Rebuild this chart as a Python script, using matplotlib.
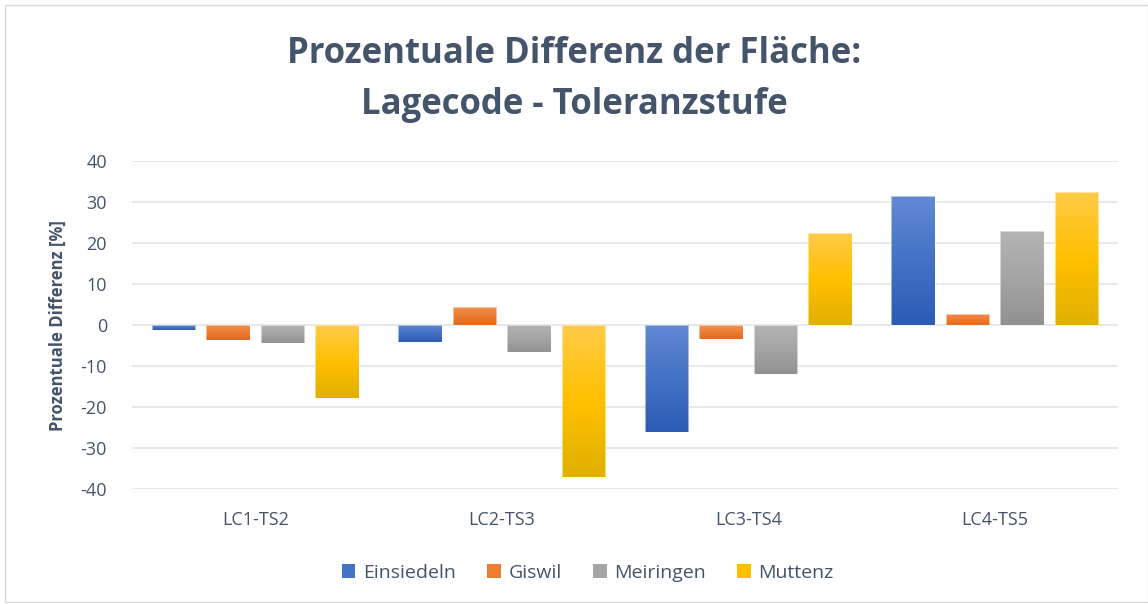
import numpy as np
import matplotlib
matplotlib.use("Agg")
import matplotlib.pyplot as plt
from matplotlib.colors import LinearSegmentedColormap
from matplotlib.patches import Rectangle

categories = ["LC1-TS2", "LC2-TS3", "LC3-TS4", "LC4-TS5"]
series_names = ["Einsiedeln", "Giswil", "Meiringen", "Muttenz"]
einsiedeln = [-1.2, -4.2, -26.1, 31.6]
giswil = [-3.7, 4.4, -3.3, 2.8]
meiringen = [-4.3, -6.6, -12.0, 23.1]
muttenz = [-17.8, -37.0, 22.4, 32.6]
y_ticks = [-40, -30, -20, -10, 0, 10, 20, 30, 40]

# light / base / dark shades for the vertical gradient fill of each series
shades = [
    ("#6389D4", "#4472C4", "#2C5BB5"),
    ("#F39052", "#ED7D31", "#E06A1C"),
    ("#B4B4B4", "#A5A5A5", "#919191"),
    ("#FFCB47", "#FFC000", "#E0B000"),
]

text_color = "#44546A"
grid_color = "#E1E4E9"

plt.rcParams["font.family"] = ["Open Sans", "DejaVu Sans"]

fig = plt.figure(figsize=(11.48, 6.04), dpi=100)
ax = fig.add_axes([0.115, 0.190, 0.859, 0.543])

values = [einsiedeln, giswil, meiringen, muttenz]
x = np.arange(len(categories))
pitch = 0.221
width = 0.176

for i, (vals, (light, base, dark)) in enumerate(zip(values, shades)):
    offs = x + (i - 1.5) * pitch
    bars = ax.bar(offs, vals, width, color=base, edgecolor="none",
                  label=series_names[i], zorder=2)
    cmap = LinearSegmentedColormap.from_list("g%d" % i, [dark, base, light])
    grad = np.linspace(0, 1, 256).reshape(-1, 1)
    for b in bars:
        x0, y0 = b.get_x(), b.get_y()
        w, h = b.get_width(), b.get_height()
        lo, hi = min(y0, y0 + h), max(y0, y0 + h)
        im = ax.imshow(grad, cmap=cmap, aspect="auto", origin="lower",
                       extent=(x0, x0 + w, lo, hi), zorder=3,
                       interpolation="bilinear")
        clip = Rectangle((x0, lo), w, hi - lo, transform=ax.transData)
        im.set_clip_path(clip)
        ax.add_patch(Rectangle((x0, lo), w, hi - lo, fill=False,
                               edgecolor="#FFFFFF", linewidth=0.6,
                               alpha=0.6, zorder=4))

ax.set_xlim(-0.5, len(categories) - 0.5)
ax.set_ylim(-40, 40)
ax.set_yticks(y_ticks)
ax.set_yticklabels([str(t) for t in y_ticks], fontsize=13, color=text_color)
ax.set_xticks(x)
ax.set_xticklabels(categories, fontsize=13, color=text_color)
ax.tick_params(axis="both", length=0)
ax.tick_params(axis="y", pad=18)
ax.tick_params(axis="x", pad=16)
ax.yaxis.grid(True, color=grid_color, linewidth=1.2, zorder=0)
ax.set_axisbelow(True)
for s in ax.spines.values():
    s.set_visible(False)

ax.set_ylabel("Prozentuale Differenz [%]", fontsize=12, fontweight="bold",
              color=text_color, labelpad=10)

fig.text(0.5, 0.868, "Prozentuale Differenz der Fläche:\nLagecode - Toleranzstufe",
         ha="center", va="center", fontsize=25, fontweight="bold",
         color=text_color, linespacing=1.57,
         family=["Open Sans", "DejaVu Sans"])

handles, labels = ax.get_legend_handles_labels()
leg = fig.legend(handles, labels, loc="center", bbox_to_anchor=(0.512, 0.052),
                 ncol=4, frameon=False, fontsize=14, handlelength=0.7,
                 handleheight=0.7, handletextpad=0.4, columnspacing=1.6)
for t in leg.get_texts():
    t.set_color(text_color)

# chart frame
fig.add_artist(Rectangle((0.004, 0.004), 0.996, 0.988, transform=fig.transFigure,
                         fill=False, edgecolor="#D9D9D9", linewidth=1.0))

fig.savefig("out.png", dpi=100)
